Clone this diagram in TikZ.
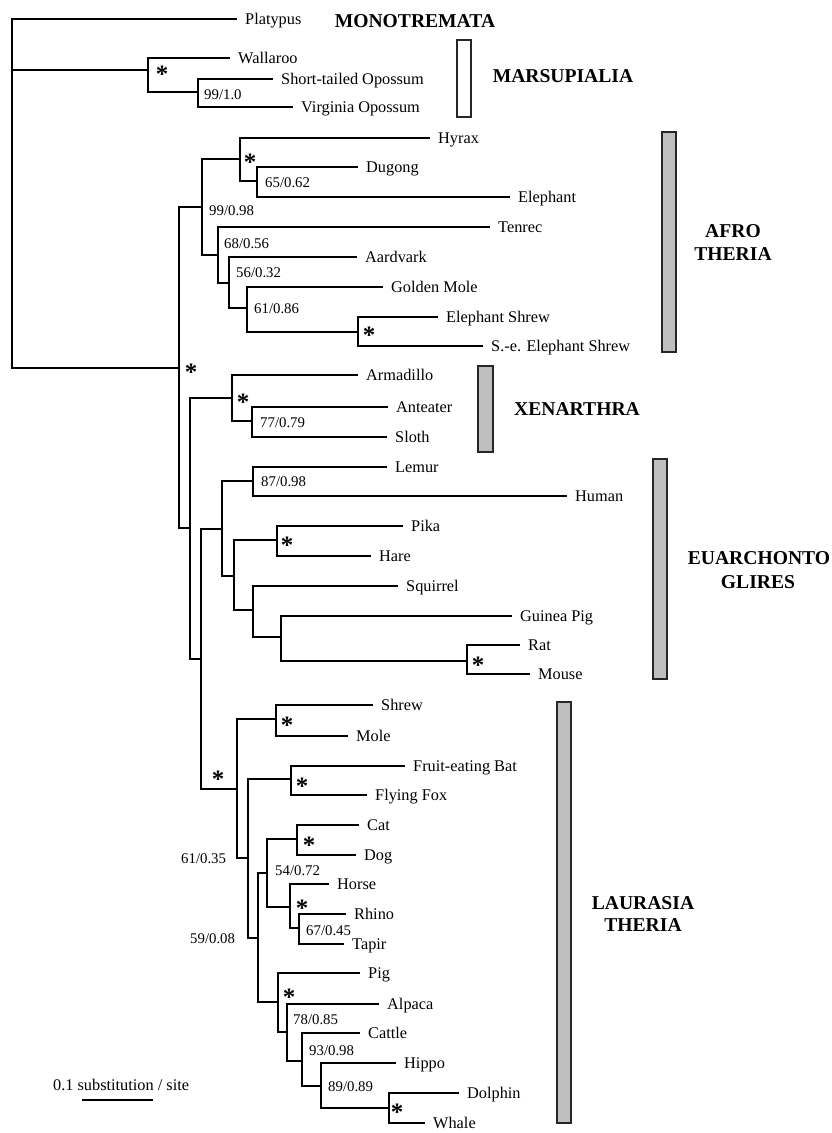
\documentclass[tikz,border=0pt]{standalone}
\usepackage{fontspec}
\setmainfont{Liberation Serif}
\begin{document}
\begin{tikzpicture}[x=1pt,y=-1pt,
  br/.style={line width=2.3pt},
  taxon/.style={anchor=base west, inner sep=0pt, xshift=8pt, yshift=-5.5pt, font=\fontsize{16.3}{18}\selectfont},
  sup/.style={anchor=base west, inner sep=0pt, font=\fontsize{14.8}{16}\selectfont},
  ast/.style={anchor=base, inner sep=0pt, yshift=-12pt, font=\fontsize{25}{27}\selectfont\bfseries},
  clade/.style={inner sep=0pt, font=\fontsize{19.6}{23}\selectfont\bfseries},
  cbox/.style={draw=black!85, line width=1.2pt, fill=gray!50},
  wbox/.style={draw=black!85, line width=1.2pt, fill=white}
]
\useasboundingbox (0,0) rectangle (832,1133);

% ---- coordinates (internal nodes and tips)
\coordinate (root) at (12,200);
\coordinate (platypus) at (237,19);
\coordinate (mars) at (148,70);
\coordinate (wallaroo) at (230,58);
\coordinate (opo) at (198,92);
\coordinate (stopo) at (273,79);
\coordinate (viropo) at (293,107);
\coordinate (plac) at (179,368);
\coordinate (afro) at (202,207);
\coordinate (a1) at (240,159);
\coordinate (hyrax) at (430,138);
\coordinate (a1b) at (257,181);
\coordinate (dugong) at (358,167);
\coordinate (elephant) at (510,197);
\coordinate (a2) at (218,255);
\coordinate (tenrec) at (490,227);
\coordinate (a3) at (229,283);
\coordinate (aardvark) at (357,257);
\coordinate (a4) at (247,308);
\coordinate (goldenmole) at (383,287);
\coordinate (a5) at (358,332);
\coordinate (eshrew) at (438,317);
\coordinate (seshrew) at (483,346);
\coordinate (xb) at (190,528);
\coordinate (xen) at (232,398);
\coordinate (armadillo) at (358,375);
\coordinate (x2) at (252,421);
\coordinate (anteater) at (388,407);
\coordinate (sloth) at (387,437);
\coordinate (boreo) at (201,659);
\coordinate (euarch) at (222,529);
\coordinate (prim) at (253,481);
\coordinate (lemur) at (387,467);
\coordinate (human) at (567,496);
\coordinate (glires) at (234,576);
\coordinate (lago) at (277,540);
\coordinate (pika) at (403,526);
\coordinate (hare) at (371,556);
\coordinate (rod) at (253,610);
\coordinate (squirrel) at (398,586);
\coordinate (e5) at (281,637);
\coordinate (guineapig) at (512,616);
\coordinate (e6) at (467,661);
\coordinate (rat) at (520,645);
\coordinate (mouse) at (530,674);
\coordinate (laur) at (237,789);
\coordinate (eulipo) at (276,719);
\coordinate (shrew) at (373,705);
\coordinate (mole) at (348,736);
\coordinate (l2) at (248,858);
\coordinate (bats) at (291,779);
\coordinate (feb) at (405,766);
\coordinate (ffox) at (367,795);
\coordinate (l4) at (258,938);
\coordinate (l5) at (267,873);
\coordinate (carn) at (297,839);
\coordinate (cat) at (359,825);
\coordinate (dog) at (356,855);
\coordinate (peris) at (290,907);
\coordinate (horse) at (329,884);
\coordinate (l8) at (299,928);
\coordinate (rhino) at (346,914);
\coordinate (tapir) at (344,944);
\coordinate (cetart) at (278,1002);
\coordinate (pig) at (360,973);
\coordinate (l10) at (287,1032);
\coordinate (alpaca) at (379,1004);
\coordinate (l11) at (302,1061);
\coordinate (cattle) at (360,1033);
\coordinate (l12) at (321,1086);
\coordinate (hippo) at (396,1063);
\coordinate (l13) at (389,1108);
\coordinate (dolphin) at (459,1093);
\coordinate (whale) at (425,1123);

% ---- branches
\foreach \p/\c in {root/platypus, root/mars, root/plac, mars/wallaroo, mars/opo,
  opo/stopo, opo/viropo, plac/afro, plac/xb, afro/a1, afro/a2, a1/hyrax, a1/a1b,
  a1b/dugong, a1b/elephant, a2/tenrec, a2/a3, a3/aardvark, a3/a4, a4/goldenmole,
  a4/a5, a5/eshrew, a5/seshrew, xb/xen, xb/boreo, xen/armadillo, xen/x2,
  x2/anteater, x2/sloth, boreo/euarch, boreo/laur, euarch/prim, euarch/glires,
  prim/lemur, prim/human, glires/lago, glires/rod, lago/pika, lago/hare,
  rod/squirrel, rod/e5, e5/guineapig, e5/e6, e6/rat, e6/mouse, laur/eulipo,
  laur/l2, eulipo/shrew, eulipo/mole, l2/bats, l2/l4, bats/feb, bats/ffox,
  l4/l5, l4/cetart, l5/carn, l5/peris, carn/cat, carn/dog, peris/horse,
  peris/l8, l8/rhino, l8/tapir, cetart/pig, cetart/l10, l10/alpaca, l10/l11,
  l11/cattle, l11/l12, l12/hippo, l12/l13, l13/dolphin, l13/whale}
  \draw[br] (\p) |- (\c);

% ---- taxon labels
\node[taxon] (t-platypus) at (platypus) {Platypus};
\node[taxon] (t-wallaroo) at (wallaroo) {Wallaroo};
\node[taxon] (t-stopo) at (stopo) {Short-tailed Opossum};
\node[taxon] (t-viropo) at (viropo) {Virginia Opossum};
\node[taxon] (t-hyrax) at (hyrax) {Hyrax};
\node[taxon] (t-dugong) at (dugong) {Dugong};
\node[taxon] (t-elephant) at (elephant) {Elephant};
\node[taxon] (t-tenrec) at (tenrec) {Tenrec};
\node[taxon] (t-aardvark) at (aardvark) {Aardvark};
\node[taxon] (t-goldenmole) at (goldenmole) {Golden Mole};
\node[taxon] (t-eshrew) at (eshrew) {Elephant Shrew};
\node[taxon] (t-seshrew) at (seshrew) {S.-e. Elephant Shrew};
\node[taxon] (t-armadillo) at (armadillo) {Armadillo};
\node[taxon] (t-anteater) at (anteater) {Anteater};
\node[taxon] (t-sloth) at (sloth) {Sloth};
\node[taxon] (t-lemur) at (lemur) {Lemur};
\node[taxon] (t-human) at (human) {Human};
\node[taxon] (t-pika) at (pika) {Pika};
\node[taxon] (t-hare) at (hare) {Hare};
\node[taxon] (t-squirrel) at (squirrel) {Squirrel};
\node[taxon] (t-guineapig) at (guineapig) {Guinea Pig};
\node[taxon] (t-rat) at (rat) {Rat};
\node[taxon] (t-mouse) at (mouse) {Mouse};
\node[taxon] (t-shrew) at (shrew) {Shrew};
\node[taxon] (t-mole) at (mole) {Mole};
\node[taxon] (t-feb) at (feb) {Fruit-eating Bat};
\node[taxon] (t-ffox) at (ffox) {Flying Fox};
\node[taxon] (t-cat) at (cat) {Cat};
\node[taxon] (t-dog) at (dog) {Dog};
\node[taxon] (t-horse) at (horse) {Horse};
\node[taxon] (t-rhino) at (rhino) {Rhino};
\node[taxon] (t-tapir) at (tapir) {Tapir};
\node[taxon] (t-pig) at (pig) {Pig};
\node[taxon] (t-alpaca) at (alpaca) {Alpaca};
\node[taxon] (t-cattle) at (cattle) {Cattle};
\node[taxon] (t-hippo) at (hippo) {Hippo};
\node[taxon] (t-dolphin) at (dolphin) {Dolphin};
\node[taxon] (t-whale) at (whale) {Whale};

% ---- support values
\node[sup] (s-opo) at (204,99) {99/1.0};
\node[sup] (s-a1b) at (265,187) {65/0.62};
\node[sup] (s-afro) at (209,215) {99/0.98};
\node[sup] (s-a2) at (224,248) {68/0.56};
\node[sup] (s-a3) at (236,277) {56/0.32};
\node[sup] (s-a4) at (254,313) {61/0.86};
\node[sup] (s-x2) at (260,427) {77/0.79};
\node[sup] (s-prim) at (261,486) {87/0.98};
\node[sup] (s-l2) at (181,863) {61/0.35};
\node[sup] (s-l5) at (275,875) {54/0.72};
\node[sup] (s-l4) at (190,943) {59/0.08};
\node[sup] (s-l8) at (306,935) {67/0.45};
\node[sup] (s-l10) at (293,1024) {78/0.85};
\node[sup] (s-l11) at (309,1055) {93/0.98};
\node[sup] (s-l12) at (328,1091) {89/0.89};

% ---- asterisks (strong support), placed at their visual centres
\node[ast] (k-mars) at (162,70) {*};
\node[ast] (k-a1) at (250,158) {*};
\node[ast] (k-a5) at (369,331) {*};
\node[ast] (k-plac) at (191,368) {*};
\node[ast] (k-xen) at (243,398) {*};
\node[ast] (k-lago) at (287,541) {*};
\node[ast] (k-e6) at (478,661) {*};
\node[ast] (k-laur) at (218,775) {*};
\node[ast] (k-eulipo) at (287,721) {*};
\node[ast] (k-bats) at (302,782) {*};
\node[ast] (k-carn) at (309,841) {*};
\node[ast] (k-peris) at (302,904) {*};
\node[ast] (k-cetart) at (289,993) {*};
\node[ast] (k-l13) at (397,1108) {*};

% ---- clade bars
\draw[wbox] (457,40) rectangle (471,117);
\draw[cbox] (662,132) rectangle (676,352);
\draw[cbox] (478,366) rectangle (493,452);
\draw[cbox] (653,459) rectangle (667,679);
\draw[cbox] (557,702) rectangle (571,1123);

% ---- clade names
\node[clade] (c-mono) at (415,21) {MONOTREMATA};
\node[clade] (c-mars) at (563,76) {MARSUPIALIA};
\node[clade] (c-afro1) at (733,231) {AFRO};
\node[clade] (c-afro2) at (733,254) {THERIA};
\node[clade] (c-xen) at (577,409) {XENARTHRA};
\node[clade] (c-euar1) at (759,558) {EUARCHONTO};
\node[clade] (c-euar2) at (758,582) {GLIRES};
\node[clade] (c-laur1) at (643,903) {LAURASIA};
\node[clade] (c-laur2) at (643,925) {THERIA};

% ---- scale bar
\coordinate (sb1) at (82,1100);
\coordinate (sb2) at (153,1100);
\draw[br] (sb1) -- (sb2);
\node[anchor=base west, inner sep=0pt, font=\fontsize{16.3}{18}\selectfont] (sbl) at (53,1090) {0.1 substitution / site};
\end{tikzpicture}
\end{document}
